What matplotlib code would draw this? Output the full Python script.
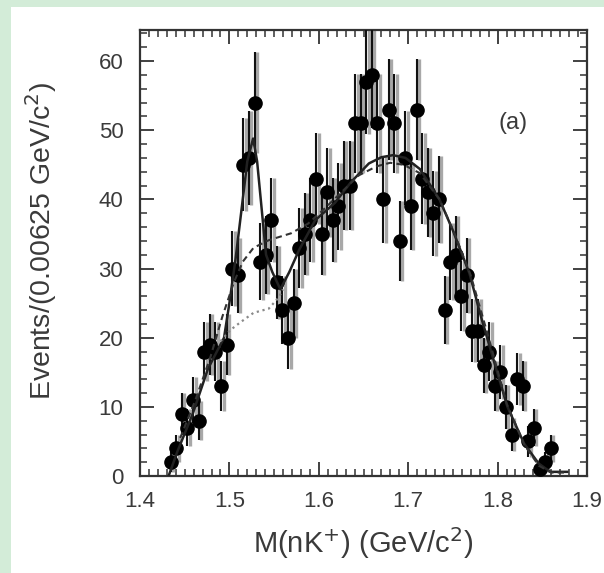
import numpy as np
import matplotlib.pyplot as plt
from matplotlib.patches import Rectangle
from matplotlib.ticker import MultipleLocator

plt.rcParams['font.family'] = ['Liberation Sans', 'DejaVu Sans']

# bin centres of the 0.00625 GeV/c^2 histogram and the counts
bin_lo = 5
bin_hi = 73
mass = 1.4 + (np.arange(bin_lo, bin_hi + 1) + 0.5) * 0.00625
counts = [2, 4, 9, 7, 11, 8, 18, 19, 18, 13,
          19, 30, 29, 45, 46, 54, 31, 32, 37, 28,
          24, 20, 25, 33, 35, 37, 43, 35, 41, 37,
          39, 42, 42, 51, 51, 57, 58, 51, 40, 53,
          51, 34, 46, 39, 53, 43, 41, 38, 40, 24,
          31, 32, 26, 29, 21, 21, 16, 18, 13, 15,
          10, 6, 14, 13, 5, 7, 1, 2, 4]
counts = np.array(counts)
errs = np.sqrt(counts)

# fit curves
fit_x = [1.432, 1.442, 1.459, 1.476, 1.494, 1.500, 1.507, 1.514, 1.520, 1.5265,
         1.531, 1.537, 1.541, 1.548, 1.557, 1.567, 1.578, 1.596, 1.618, 1.636,
         1.656, 1.670, 1.683, 1.697, 1.713, 1.735, 1.750, 1.7685, 1.7815, 1.795,
         1.811, 1.8296, 1.846, 1.859, 1.878]
fit_y = [0, 3.6, 9, 15.5, 20, 25, 31.5, 39, 45.5, 48.8,
         45.5, 37.4, 32, 29.5, 27, 29.5, 32.7, 37, 39.5, 42.5,
         45.2, 46.1, 46.4, 46, 44.4, 40, 35.5, 29.3, 23, 17,
         10, 4.7, 1.8, 0.6, 0.6]

bkg_x = [1.445, 1.462, 1.479, 1.492, 1.505, 1.515, 1.527, 1.544, 1.569, 1.588,
         1.605, 1.625, 1.645, 1.665, 1.680, 1.695, 1.713, 1.735, 1.752, 1.770,
         1.790, 1.810, 1.830, 1.846, 1.860, 1.875]
bkg_y = [5.5, 11, 17.3, 23, 28, 31, 33, 34.1, 35.1, 36.5,
         38.5, 41, 43.5, 44.8, 45.3, 45, 43.8, 40, 35, 29,
         20, 10.5, 4.5, 1.5, 0.5, 0.5]

bkg2_x = [1.490, 1.501, 1.512, 1.527, 1.544, 1.555, 1.560]
bkg2_y = [19.5, 21.1, 22.2, 23.6, 24.2, 25.8, 27]

fig = plt.figure(figsize=(6.04, 5.73), dpi=100)
fig.patch.set_facecolor('#d3ecd8')
fig.patches.append(Rectangle((11 / 604, 0), 1, 1 - 7 / 573, transform=fig.transFigure,
                             facecolor='white', edgecolor='none', zorder=-10))

ax = fig.add_axes([140 / 604, 1 - 476 / 573, 447 / 604, 446 / 573])
ax.set_zorder(1)

# grey shadow of the error bars, then the black bars and points
ax.vlines(mass + 0.0028, counts - errs, counts + errs, color='#a8a8a8', lw=2.4, zorder=2)
ax.vlines(mass, counts - errs, counts + errs, color='#111111', lw=1.5, zorder=3)
ax.plot(mass, counts, 'o', color='black', ms=9.5, zorder=4)

ax.plot(fit_x, fit_y, '-', color='#222222', lw=1.8, zorder=5)
ax.plot(bkg_x, bkg_y, '--', color='#333333', lw=1.5, dashes=(3, 2), zorder=5)
ax.plot(bkg2_x, bkg2_y, ':', color='#8a8a8a', lw=1.6, zorder=5)

ax.set_xlim(1.4, 1.9)
ax.set_ylim(0, 64.5)
ax.xaxis.set_major_locator(MultipleLocator(0.1))
ax.xaxis.set_minor_locator(MultipleLocator(0.01))
ax.yaxis.set_major_locator(MultipleLocator(10))
ax.yaxis.set_minor_locator(MultipleLocator(2))
ax.set_xticks([1.4, 1.5, 1.6, 1.7, 1.8, 1.9])
ax.set_xticklabels(['1.4', '1.5', '1.6', '1.7', '1.8', '1.9'])
ax.tick_params(which='both', direction='in', top=True, right=True, color='#333333',
               labelcolor='#3a3a3a', labelsize=16)
ax.tick_params(which='major', length=10, width=1.3)
ax.tick_params(which='minor', length=5, width=1.1)
ax.tick_params(axis='x', pad=11)
ax.tick_params(axis='y', pad=12)
for s in ax.spines.values():
    s.set_linewidth(1.6)
    s.set_color('#333333')

ax.set_xlabel('M(nK$^{+}$) (GeV/c$^{2}$)', fontsize=21, color='#3a3a3a', labelpad=9)
ax.set_ylabel('Events/(0.00625 GeV/c$^{2}$)', fontsize=20.5, color='#3a3a3a')
ax.yaxis.set_label_coords(-0.182, 0.527)
ax.text(1.817, 51, '(a)', fontsize=17, color='#3a3a3a', ha='center', va='center')

fig.savefig('out.png', dpi=100, facecolor=fig.get_facecolor())
